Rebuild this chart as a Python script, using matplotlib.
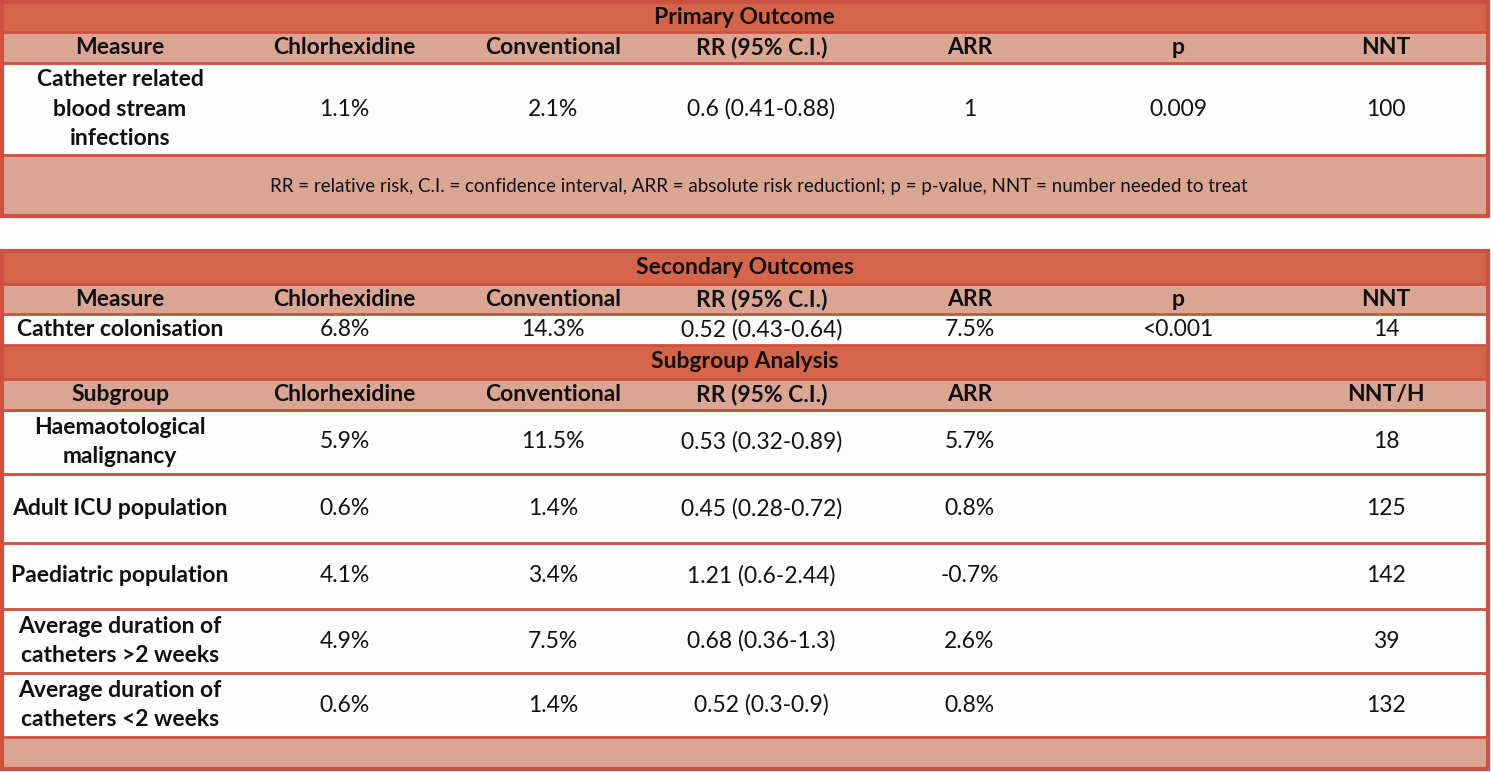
import matplotlib.pyplot as plt
from matplotlib.patches import Rectangle

# table content
columns = ["Measure", "Chlorhexidine", "Conventional", "RR (95% C.I.)", "ARR", "p", "NNT"]
subgroup_columns = ["Subgroup", "Chlorhexidine", "Conventional", "RR (95% C.I.)", "ARR", "", "NNT/H"]

primary_row = ["Catheter related\nblood stream\ninfections", "1.1%", "2.1%", "0.6 (0.41-0.88)", "1", "0.009", "100"]
footnote = "RR = relative risk, C.I. = confidence interval, ARR = absolute risk reductionl; p = p-value, NNT = number needed to treat"

secondary_row = ["Cathter colonisation", "6.8%", "14.3%", "0.52 (0.43-0.64)", "7.5%", "<0.001", "14"]

subgroups = ["Haemaotological\nmalignancy", "Adult ICU population", "Paediatric population",
             "Average duration of\ncatheters >2 weeks", "Average duration of\ncatheters <2 weeks"]
chlorhexidine = ["5.9%", "0.6%", "4.1%", "4.9%", "0.6%"]
conventional = ["11.5%", "1.4%", "3.4%", "7.5%", "1.4%"]
rr_ci = ["0.53 (0.32-0.89)", "0.45 (0.28-0.72)", "1.21 (0.6-2.44)", "0.68 (0.36-1.3)", "0.52 (0.3-0.9)"]
arr = ["5.7%", "0.8%", "-0.7%", "2.6%", "0.8%"]
nnt = ["18", "125", "142", "39", "132"]

# colours
DARK = "#D4644A"
LIGHT = "#DBA594"
WHITE = "#FDFDFD"
EDGE = "#CD5140"

plt.rcParams['font.family'] = ['Lato', 'DejaVu Sans']

W, H = 1491, 772
fig = plt.figure(figsize=(W / 100, H / 100), dpi=100)
ax = fig.add_axes([0, 0, 1, 1])
ax.set_xlim(0, W)
ax.set_ylim(H, 0)
ax.axis("off")
fig.patch.set_facecolor(WHITE)

col_edges = [0, 240, 449, 657, 866, 1073, 1283, 1489]
col_centers = [(a + b) / 2 for a, b in zip(col_edges[:-1], col_edges[1:])]
LEFT, RIGHT = col_edges[0], col_edges[-1]
FS = 16.5


def band(y0, y1, color):
    ax.add_patch(Rectangle((LEFT, y0), RIGHT - LEFT, y1 - y0, facecolor=color, edgecolor="none"))


def row_text(values, y0, y1, bold_first=True, all_bold=False):
    yc = (y0 + y1) / 2
    for i, (v, xc) in enumerate(zip(values, col_centers)):
        bold = all_bold or (bold_first and i == 0)
        ax.text(xc, yc, v, ha="center", va="center", fontsize=FS,
                fontweight="bold" if bold else "normal", linespacing=1.52, color="#111111")


def title(text, y0, y1):
    band(y0, y1, DARK)
    ax.text((LEFT + RIGHT) / 2, (y0 + y1) / 2, text, ha="center", va="center",
            fontsize=FS, fontweight="bold", color="#111111")


def hline(y, lw=2.0):
    ax.plot([LEFT, RIGHT], [y, y], color=EDGE, lw=lw, solid_capstyle="butt")


# --- primary outcome table ---
t1 = [2, 32, 63, 155, 216]
title("Primary Outcome", t1[0], t1[1])
band(t1[1], t1[2], LIGHT)
row_text(columns, t1[1], t1[2], all_bold=True)
band(t1[2], t1[3], WHITE)
row_text(primary_row, t1[2], t1[3])
band(t1[3], t1[4], LIGHT)
ax.text(759, (t1[3] + t1[4]) / 2 + 1, footnote, ha="center", va="center",
        fontsize=13.5, color="#111111")
for y in t1[1:4]:
    hline(y)
ax.add_patch(Rectangle((LEFT + 1.5, t1[0]), RIGHT - LEFT - 3, t1[4] - t1[0],
                       facecolor="none", edgecolor=EDGE, lw=3))

# --- secondary outcomes / subgroup table ---
t2 = [251, 284, 314, 345, 379, 410]
title("Secondary Outcomes", t2[0], t2[1])
band(t2[1], t2[2], LIGHT)
row_text(columns, t2[1], t2[2], all_bold=True)
band(t2[2], t2[3], WHITE)
row_text(secondary_row, t2[2], t2[3])
title("Subgroup Analysis", t2[3], t2[4])
band(t2[4], t2[5], LIGHT)
row_text(subgroup_columns, t2[4], t2[5], all_bold=True)

sub_edges = [410, 474, 543, 609, 673, 737]
for i in range(len(subgroups)):
    y0, y1 = sub_edges[i], sub_edges[i + 1]
    band(y0, y1, WHITE)
    row_text([subgroups[i], chlorhexidine[i], conventional[i], rr_ci[i], arr[i], "", nnt[i]], y0, y1)
bottom = 769
band(sub_edges[-1], bottom, LIGHT)

for y in t2[1:] + sub_edges:
    hline(y)
ax.add_patch(Rectangle((LEFT + 1.5, t2[0]), RIGHT - LEFT - 3, bottom - t2[0],
                       facecolor="none", edgecolor=EDGE, lw=3))

fig.savefig("out.png", dpi=100, facecolor=fig.get_facecolor())
